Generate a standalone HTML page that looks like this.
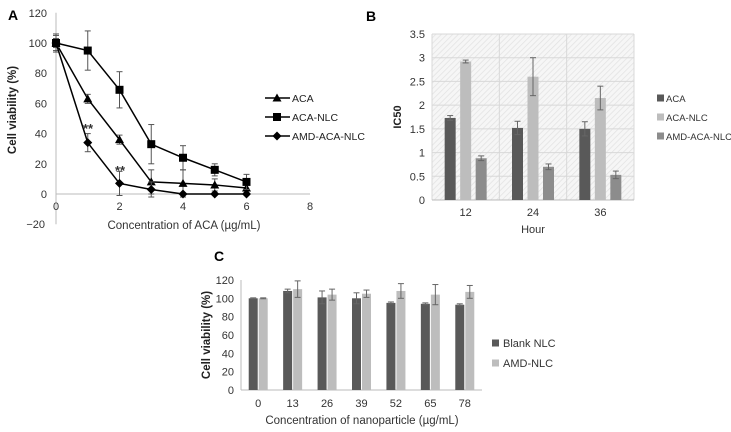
<!DOCTYPE html>
<html><head><meta charset="utf-8">
<style>
body{margin:0;background:#fff;}
svg{display:block;font-family:"Liberation Sans",sans-serif;}
</style></head>
<body>
<svg id="s" width="731" height="432" viewBox="0 0 731 432" xmlns="http://www.w3.org/2000/svg">
<defs>
<pattern id="hatch" width="4" height="4" patternUnits="userSpaceOnUse" patternTransform="rotate(45)">
<rect width="4" height="4" fill="#f6f6f6"/><line x1="0" y1="0" x2="0" y2="4" stroke="#e2e2e2" stroke-width="1.5"/>
</pattern>
</defs>
<text x="8" y="20" font-size="14" font-weight="bold">A</text>
<text x="366" y="21" font-size="14" font-weight="bold">B</text>
<text x="214" y="261" font-size="14" font-weight="bold">C</text>
<g id="A"></g>
<g id="B"></g>
<g id="C"></g>
</svg>
<script>
// Panel A data
const aX = [0,1,2,3,4,5,6];
const aACA = [100,63,36,8,7,6,4];
const aACAerr = [5,3,3,8,9,4,4];
const aNLC = [100,95,69,33,24,16,8];
const aNLCerr = [6,13,12,13,8,4,5];
const aAMD = [100,34,7,3,0,0,0];
const aAMDerr = [3,6,8,5,0,0,0];
const aYTicks = [-20,0,20,40,60,80,100,120];
const aXTicks = [0,2,4,6,8];
// Panel B data
const bCats = ["12","24","36"];
const bACA = [1.73,1.52,1.50];
const bACAerr = [0.05,0.14,0.15];
const bNLC = [2.92,2.60,2.15];
const bNLCerr = [0.03,0.40,0.25];
const bAMD = [0.88,0.70,0.53];
const bAMDerr = [0.05,0.06,0.08];
const bYTicks = [0,0.5,1,1.5,2,2.5,3,3.5];
// Panel C data
const cCats = ["0","13","26","39","52","65","78"];
const cBlank = [100,108,101,100,95,94,93];
const cBlankErr = [0.5,2,7,6,1,1,1];
const cAMD = [100,110,104,105,108,104,107];
const cAMDErr = [0.5,9,6,4,8,11,7];
const cYTicks = [0,20,40,60,80,100,120];

const NS="http://www.w3.org/2000/svg";
function mk(parent,tag,attrs,text){const e=document.createElementNS(NS,tag);for(const k in attrs)e.setAttribute(k,attrs[k]);if(text!==undefined)e.textContent=text;parent.appendChild(e);return e;}

// ---------- Panel A ----------
(function(){
const g=document.getElementById('A');
const x=v=>56+v*31.75, y=v=>194-v*1.51;
mk(g,'line',{x1:56,y1:y(120),x2:56,y2:y(-20),stroke:'#bbb'});
mk(g,'line',{x1:56,y1:194,x2:310,y2:194,stroke:'#bbb'});
aYTicks.forEach(t=>{const e=mk(g,'text',{x:(t<0?45:47),y:y(t)+4,'font-size':11,'text-anchor':'end',fill:'#333'},t<0?'\u221220':t);
});
aXTicks.forEach(t=>{const e=mk(g,'text',{x:x(t),y:210,'font-size':11,'text-anchor':'middle',fill:'#333'},t);
});
let e=mk(g,'text',{x:184,y:229,'font-size':11.5,'text-anchor':'middle',fill:'#333'},'Concentration of ACA (\u00b5g/mL)');

e=mk(g,'text',{x:0,y:0,'font-size':11.5,'font-weight':'bold','text-anchor':'middle',fill:'#222',transform:'translate(16,110) rotate(-90)'},'Cell viability (%)');

const series=[[aACA,aACAerr,'tri','ACA'],[aNLC,aNLCerr,'sq','ACA-NLC'],[aAMD,aAMDerr,'dia','AMD-ACA-NLC']];
function marker(gg,cx,cy,t){
 if(t==='tri')return mk(gg,'polygon',{points:`${cx},${cy-4.5} ${cx-4.5},${cy+3.5} ${cx+4.5},${cy+3.5}`,fill:'#000'});
 if(t==='sq')return mk(gg,'rect',{x:cx-4,y:cy-4,width:8,height:8,fill:'#000'});
 return mk(gg,'polygon',{points:`${cx},${cy-4.5} ${cx+4.5},${cy} ${cx},${cy+4.5} ${cx-4.5},${cy}`,fill:'#000'});
}
series.forEach((s,si)=>{
 const sg=mk(g,'g',{});
 
 s[0].forEach((v,i)=>{const er=s[1][i];if(er>0){
  mk(sg,'line',{x1:x(aX[i]),y1:y(v+er),x2:x(aX[i]),y2:y(v-er),stroke:'#555'});
  mk(sg,'line',{x1:x(aX[i])-3,y1:y(v+er),x2:x(aX[i])+3,y2:y(v+er),stroke:'#555'});
  mk(sg,'line',{x1:x(aX[i])-3,y1:y(v-er),x2:x(aX[i])+3,y2:y(v-er),stroke:'#555'});}});
 mk(sg,'polyline',{points:s[0].map((v,i)=>x(aX[i])+','+y(v)).join(' '),fill:'none',stroke:'#000','stroke-width':1.5});
 s[0].forEach((v,i)=>{const m=marker(sg,x(aX[i]),y(v),s[2]);});
 const ly=98+si*19;
 const lg=mk(g,'g',{});
 mk(lg,'line',{x1:265,y1:ly,x2:290,y2:ly,stroke:'#000','stroke-width':1.5});
 marker(lg,277,ly,s[2]);
 mk(lg,'text',{x:292,y:ly+4,'font-size':10.5,fill:'#222'},s[3]);
});
e=mk(g,'text',{x:88,y:133,'font-size':13,'font-weight':'bold','text-anchor':'middle',fill:'#333'},'**');
e=mk(g,'text',{x:120,y:175,'font-size':13,'font-weight':'bold','text-anchor':'middle',fill:'#333'},'**');
})();

// ---------- Panel B ----------
(function(){
const g=document.getElementById('B');
const y=v=>200-v*47.43;
const L=432,R=634,gw=(R-L)/3;
mk(g,'rect',{x:L,y:y(3.5),width:R-L,height:200-y(3.5),fill:'url(#hatch)'});
bYTicks.forEach(t=>{mk(g,'line',{x1:L,y1:y(t),x2:R,y2:y(t),stroke:'#d8d8d8'});
 const e=mk(g,'text',{x:425,y:y(t)+4,'font-size':11,'text-anchor':'end',fill:'#333'},t);
 });
for(let i=0;i<=3;i++)mk(g,'line',{x1:L+i*gw,y1:y(3.5),x2:L+i*gw,y2:200,stroke:'#d8d8d8'});
mk(g,'line',{x1:L,y1:200,x2:R,y2:200,stroke:'#bbb'});
const ser=[[bACA,bACAerr,'#595959','ACA'],[bNLC,bNLCerr,'#bdbdbd','ACA-NLC'],[bAMD,bAMDerr,'#8c8c8c','AMD-ACA-NLC']];
bCats.forEach((c,i)=>{const cx=L+gw*(i+0.5);
 const e=mk(g,'text',{x:cx,y:216,'font-size':11,'text-anchor':'middle',fill:'#333'},c);
 
 ser.forEach((s,si)=>{const bx=cx+(si-1)*15.5;const v=s[0][i],er=s[1][i];
  const b=mk(g,'rect',{x:bx-5.5,y:y(v),width:11,height:200-y(v),fill:s[2]});
  
  mk(g,'line',{x1:bx,y1:y(v+er),x2:bx,y2:y(v-er),stroke:'#666'});
  mk(g,'line',{x1:bx-3,y1:y(v+er),x2:bx+3,y2:y(v+er),stroke:'#666'});
  mk(g,'line',{x1:bx-3,y1:y(v-er),x2:bx+3,y2:y(v-er),stroke:'#666'});});
});
ser.forEach((s,si)=>{const ly=98+si*19;const lg=mk(g,'g',{});
 
 mk(lg,'rect',{x:657,y:ly-3.5,width:7,height:7,fill:s[2]});
 mk(lg,'text',{x:666,y:ly+4,'font-size':9.5,fill:'#333'},s[3]);});
let e=mk(g,'text',{x:533,y:233,'font-size':11,'text-anchor':'middle',fill:'#333'},'Hour');

e=mk(g,'text',{x:0,y:0,'font-size':11,'font-weight':'bold','text-anchor':'middle',fill:'#222',transform:'translate(401,117) rotate(-90)'},'IC50');

})();

// ---------- Panel C ----------
(function(){
const g=document.getElementById('C');
const y=v=>390-v*0.917;
const L=241,R=482,gw=(R-L)/7;
mk(g,'line',{x1:L,y1:y(120),x2:L,y2:390,stroke:'#bbb'});
mk(g,'line',{x1:L,y1:390,x2:R,y2:390,stroke:'#bbb'});
cYTicks.forEach(t=>{const e=mk(g,'text',{x:234,y:y(t)+4,'font-size':11,'text-anchor':'end',fill:'#333'},t);
 });
const ser=[[cBlank,cBlankErr,'#595959','Blank NLC'],[cAMD,cAMDErr,'#bdbdbd','AMD-NLC']];
cCats.forEach((c,i)=>{const cx=L+gw*(i+0.5);
 const e=mk(g,'text',{x:cx,y:407,'font-size':11,'text-anchor':'middle',fill:'#333'},c);
 
 ser.forEach((s,si)=>{const bx=cx+(si===0?-5:5);const v=s[0][i],er=s[1][i];
  const b=mk(g,'rect',{x:bx-4.5,y:y(v),width:9,height:390-y(v),fill:s[2]});
  
  mk(g,'line',{x1:bx,y1:y(v+er),x2:bx,y2:y(v-er),stroke:'#666'});
  mk(g,'line',{x1:bx-3,y1:y(v+er),x2:bx+3,y2:y(v+er),stroke:'#666'});
  mk(g,'line',{x1:bx-3,y1:y(v-er),x2:bx+3,y2:y(v-er),stroke:'#666'});});
});
ser.forEach((s,si)=>{const ly=343+si*20;const lg=mk(g,'g',{});
 
 mk(lg,'rect',{x:492,y:ly-3.5,width:7,height:7,fill:s[2]});
 mk(lg,'text',{x:503,y:ly+4,'font-size':11,fill:'#333'},s[3]);});
let e=mk(g,'text',{x:362,y:424,'font-size':11.5,'text-anchor':'middle',fill:'#333'},'Concentration of nanoparticle (\u00b5g/mL)');

e=mk(g,'text',{x:0,y:0,'font-size':11.5,'font-weight':'bold','text-anchor':'middle',fill:'#222',transform:'translate(210,335) rotate(-90)'},'Cell viability (%)');

})();
</script>
</body></html>
